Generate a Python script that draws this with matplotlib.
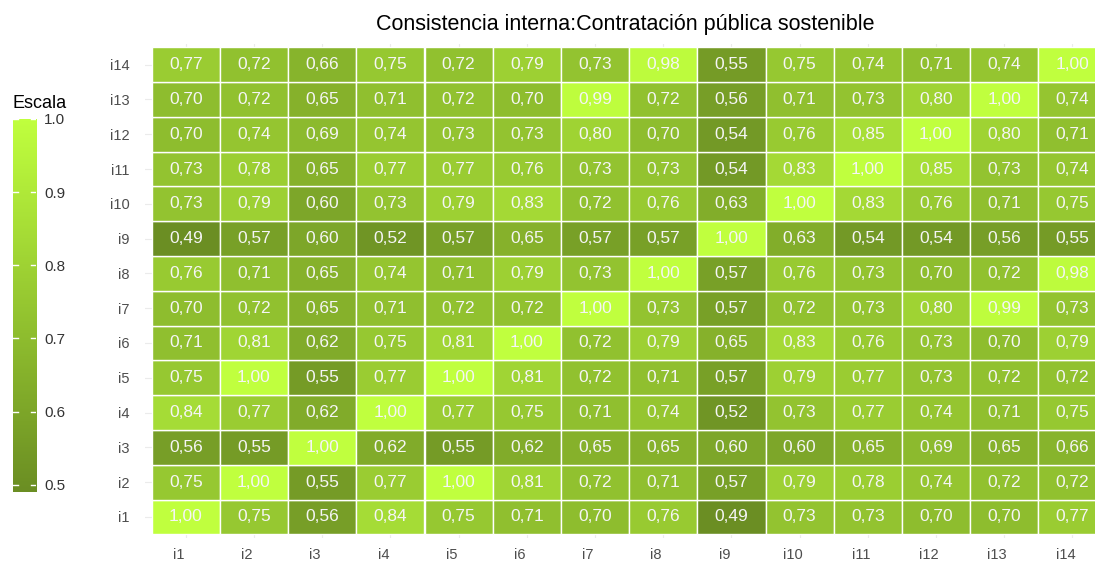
import numpy as np
import matplotlib
matplotlib.use("Agg")
import matplotlib.pyplot as plt
import matplotlib.transforms as mtransforms
from matplotlib.colors import LinearSegmentedColormap, Normalize

plt.rcParams['font.family'] = ['Liberation Sans', 'DejaVu Sans']

items = ["i1", "i2", "i3", "i4", "i5", "i6", "i7", "i8", "i9", "i10", "i11", "i12", "i13", "i14"]

# rows listed for i1..i14 (bottom to top), columns i1..i14
r_i1  = [1.00, 0.75, 0.56, 0.84, 0.75, 0.71, 0.70, 0.76, 0.49, 0.73, 0.73, 0.70, 0.70, 0.77]
r_i2  = [0.75, 1.00, 0.55, 0.77, 1.00, 0.81, 0.72, 0.71, 0.57, 0.79, 0.78, 0.74, 0.72, 0.72]
r_i3  = [0.56, 0.55, 1.00, 0.62, 0.55, 0.62, 0.65, 0.65, 0.60, 0.60, 0.65, 0.69, 0.65, 0.66]
r_i4  = [0.84, 0.77, 0.62, 1.00, 0.77, 0.75, 0.71, 0.74, 0.52, 0.73, 0.77, 0.74, 0.71, 0.75]
r_i5  = [0.75, 1.00, 0.55, 0.77, 1.00, 0.81, 0.72, 0.71, 0.57, 0.79, 0.77, 0.73, 0.72, 0.72]
r_i6  = [0.71, 0.81, 0.62, 0.75, 0.81, 1.00, 0.72, 0.79, 0.65, 0.83, 0.76, 0.73, 0.70, 0.79]
r_i7  = [0.70, 0.72, 0.65, 0.71, 0.72, 0.72, 1.00, 0.73, 0.57, 0.72, 0.73, 0.80, 0.99, 0.73]
r_i8  = [0.76, 0.71, 0.65, 0.74, 0.71, 0.79, 0.73, 1.00, 0.57, 0.76, 0.73, 0.70, 0.72, 0.98]
r_i9  = [0.49, 0.57, 0.60, 0.52, 0.57, 0.65, 0.57, 0.57, 1.00, 0.63, 0.54, 0.54, 0.56, 0.55]
r_i10 = [0.73, 0.79, 0.60, 0.73, 0.79, 0.83, 0.72, 0.76, 0.63, 1.00, 0.83, 0.76, 0.71, 0.75]
r_i11 = [0.73, 0.78, 0.65, 0.77, 0.77, 0.76, 0.73, 0.73, 0.54, 0.83, 1.00, 0.85, 0.73, 0.74]
r_i12 = [0.70, 0.74, 0.69, 0.74, 0.73, 0.73, 0.80, 0.70, 0.54, 0.76, 0.85, 1.00, 0.80, 0.71]
r_i13 = [0.70, 0.72, 0.65, 0.71, 0.72, 0.70, 0.99, 0.72, 0.56, 0.71, 0.73, 0.80, 1.00, 0.74]
r_i14 = [0.77, 0.72, 0.66, 0.75, 0.72, 0.79, 0.73, 0.98, 0.55, 0.75, 0.74, 0.71, 0.74, 1.00]

rows = [r_i1, r_i2, r_i3, r_i4, r_i5, r_i6, r_i7, r_i8, r_i9, r_i10, r_i11, r_i12, r_i13, r_i14]
colorbar_ticks = [0.5, 0.6, 0.7, 0.8, 0.9, 1.0]

M = np.array(rows)
n = len(items)
vmin, vmax = M.min(), M.max()

cmap = LinearSegmentedColormap.from_list("olive", ["#6B8E23", "#C0FF3E"])
norm = Normalize(vmin=vmin, vmax=vmax)

W, H = 1095, 562
fig = plt.figure(figsize=(W / 100, H / 100), dpi=100)
# tile area (pixels); right part runs past the figure edge as in the reference
tx0, cw = 151.7, 68.2
ty0, ty1 = 47.3, 534.3
ch = (ty1 - ty0) / n
L, R = tx0 - 0.1 * cw, tx0 + n * cw + 0.1 * cw
T, B = ty0 - 0.1 * ch, ty1 + 0.1 * ch
ax = fig.add_axes([L / W, 1 - B / H, (R - L) / W, (B - T) / H])
ax.set_xlim(-0.6, n - 0.4)
ax.set_ylim(-0.6, n - 0.4)
for s in ax.spines.values():
    s.set_visible(False)

# faint grid lines
for k in range(n):
    ax.axvline(k, color="#EBEBEB", lw=0.8, zorder=0)
    ax.axhline(k, color="#EBEBEB", lw=0.8, zorder=0)

for i in range(n):
    for j in range(n):
        v = M[i, j]
        ax.add_patch(plt.Rectangle((j - 0.5, i - 0.5), 1, 1, facecolor=cmap(norm(v)),
                                   edgecolor="white", lw=1.0, zorder=2))
        ax.text(j, i, f"{v:.2f}".replace(".", ","), ha="center", va="center",
                color="#F5F5F5", fontsize=12.5, zorder=3)

ax.set_xticks(range(n))
ax.set_yticks(range(n))
ax.set_xticklabels(items)
ax.set_yticklabels(items)
ax.tick_params(axis="both", length=0, colors="#4D4D4D", labelsize=10.5)
ax.tick_params(axis="x", pad=7)
ax.tick_params(axis="y", pad=11)
shift = mtransforms.ScaledTranslation(-7 / 100, 0, fig.dpi_scale_trans)
for lbl in ax.get_xticklabels():
    lbl.set_transform(lbl.get_transform() + shift)
ax.set_title("Consistencia interna:Contratación pública sostenible", fontsize=15.5,
             color="black", pad=10, x=(625 - L) / (R - L))

# colorbar
cb_l, cb_r, cb_t, cb_b = 13, 36, 119, 492
cax = fig.add_axes([cb_l / W, 1 - cb_b / H, (cb_r - cb_l) / W, (cb_b - cb_t) / H])
grad = np.linspace(vmin, vmax, 300).reshape(-1, 1)
cax.imshow(grad, aspect="auto", cmap=cmap, norm=norm, origin="lower",
           extent=[0, 1, vmin, vmax])
cax.set_xlim(0, 1)
cax.set_ylim(vmin, vmax)
for s in cax.spines.values():
    s.set_visible(False)
cax.set_xticks([])
cax.yaxis.tick_right()
cax.set_yticks(colorbar_ticks)
cax.set_yticklabels([f"{t:.1f}" for t in colorbar_ticks])
cax.tick_params(axis="y", length=0, colors="#333333", labelsize=11, pad=6)
for t in colorbar_ticks:
    cax.plot([0, 0.2], [t, t], color="white", lw=1)
    cax.plot([0.8, 1], [t, t], color="white", lw=1)
fig.text(12 / W, 1 - 103 / H, "Escala", fontsize=13, color="black", ha="left", va="center")

fig.savefig("out.png", dpi=100, facecolor="white")
